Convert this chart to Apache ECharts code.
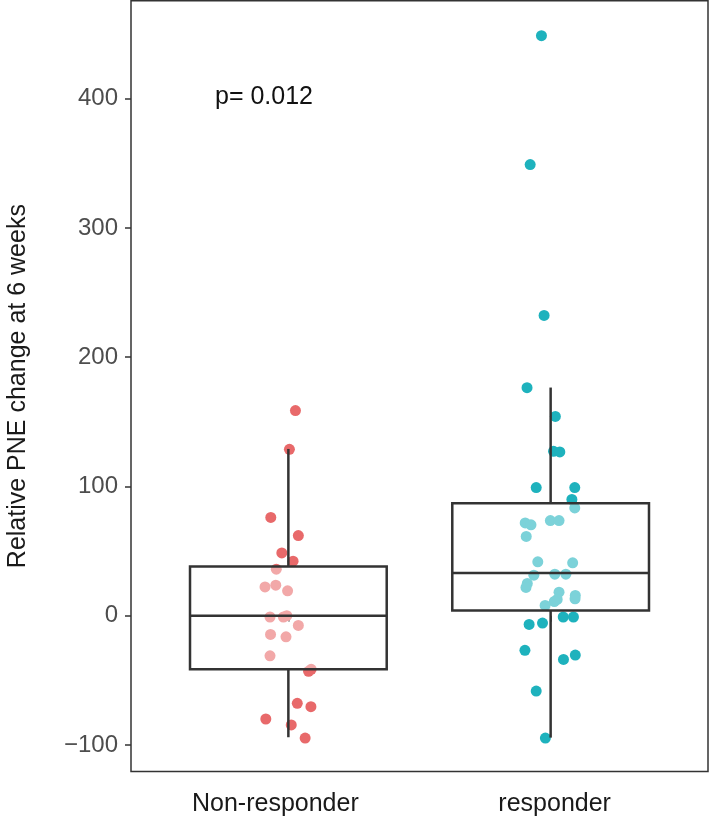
<!DOCTYPE html>
<html>
<head>
<meta charset="utf-8">
<script src="https://cdn.jsdelivr.net/npm/echarts@6/dist/echarts.min.js"></script>
<style>html,body{margin:0;padding:0;background:#fff;}#c{width:709px;height:827px;}</style>
</head>
<body>
<div id="c"></div>
<script>
// Categories and tick labels
var categories = ['Non-responder', 'responder'];
var yTicks = [-100, 0, 100, 200, 300, 400];
var yTitle = 'Relative PNE change at 6 weeks';
var pLabel = 'p= 0.012';

// Box statistics per group: [lowWhisker, q1, median, q3, highWhisker]
var boxNonResponder = [-94, -41.5, 0, 38, 129];
var boxResponder = [-94.3, 4, 33, 87, 176.5];

// Jittered points: horizontal jitter (in category units) and values
var nonRespJitter = [0.027, 0.004, -0.067, 0.038, -0.025, 0.018, -0.046, -0.089, -0.048, -0.003, -0.070, -0.019, -0.006, 0.038, -0.068, -0.009, -0.070, 0.077, 0.087, 0.034, 0.086, -0.086, 0.011, 0.064];
var nonRespValues = [158.7, 128.7, 76, 62, 48.6, 42.2, 36, 22.3, 23.6, 19.3, -1, -1, 0, -7.5, -14.5, -16.3, -31, -43, -41.5, -67.8, -70.4, -79.9, -84.5, -94.6];

var respJitter = [-0.035, -0.078, -0.025, -0.090, 0.018, 0.011, 0.035, -0.055, 0.092, 0.081, 0.092, -0.097, -0.075, -0.001, 0.032, -0.093, -0.049, 0.084, -0.064, 0.016, 0.058, -0.089, -0.094, 0.032, 0.025, 0.014, 0.094, 0.093, -0.021, 0.048, 0.087, -0.082, -0.031, -0.098, 0.049, 0.094, -0.055, -0.020];
var respValues = [448.7, 349, 232.3, 176.4, 154.2, 127.2, 126.7, 99.1, 99.1, 89.9, 83.4, 71.8, 70.3, 73.6, 73.6, 61.3, 41.7, 40.9, 31.4, 32.1, 32.1, 25, 21.9, 18.2, 12.6, 11, 15.7, 13.1, 8, -1, -1, -6.7, -5.7, -26.8, -33.8, -30.4, -58.3, -94.6];

var colors = ['#E8696A', '#1EB2BD'];

function pts(jit, vals, pos) {
  return vals.map(function (v, i) { return [pos + jit[i], v]; });
}

var chart = echarts.init(document.getElementById('c'), null, {renderer: 'canvas'});
var lineColor = '#333333';
var font = 'Liberation Sans, Arial, Helvetica, sans-serif';

var option = {
  animation: false,
  grid: {left: 131, right: 1, top: 0.75, bottom: 55.5, show: true, containLabel: false, outerBoundsMode: 'none', borderColor: lineColor, borderWidth: 1.5, backgroundColor: 'transparent'},
  xAxis: {
    type: 'value', min: 0.4, max: 2.6,
    axisLine: {show: false},
    splitLine: {show: false},
    axisTick: {show: true, customValues: [1, 2], length: 6, lineStyle: {color: lineColor, width: 1.5}},
    axisLabel: {customValues: [1, 2], margin: 20, fontSize: 25, color: '#1a1a1a', fontFamily: font,
      formatter: function (v) { var i = Math.round(v) - 1; return '{' + (i === 0 ? 'a' : 'b') + '|' + categories[i] + '}'; },
      rich: {
        a: {fontSize: 25, color: '#1a1a1a', fontFamily: font, padding: [0, 26, 0, 0]},
        b: {fontSize: 25, color: '#1a1a1a', fontFamily: font, padding: [0, 0, 0, 8]}
      }}
  },
  yAxis: {
    type: 'value', min: -120.5, max: 475.7,
    name: yTitle, nameLocation: 'middle', nameGap: 100, nameRotate: 90,
    nameTextStyle: {fontSize: 25, color: '#1a1a1a', fontFamily: font},
    axisLine: {show: false},
    splitLine: {show: false},
    axisTick: {show: true, customValues: yTicks, length: 6, lineStyle: {color: lineColor, width: 1.5}},
    axisLabel: {customValues: yTicks, margin: 13, fontSize: 24, color: '#4D4D4D', fontFamily: font,
      formatter: function (v) { return v < 0 ? '\u2212' + Math.abs(v) : String(v); }}
  },
  graphic: [{
    type: 'text', left: 215, top: 85, z: 100,
    style: {text: pLabel, fontSize: 25, fill: '#111', fontFamily: font}
  }],
  series: [
    {type: 'scatter', symbolSize: 11, z: 2, itemStyle: {color: colors[0], opacity: 1}, data: pts(nonRespJitter, nonRespValues, 1)},
    {type: 'scatter', symbolSize: 11, z: 2, itemStyle: {color: colors[1], opacity: 1}, data: pts(respJitter, respValues, 2)},
    {
      type: 'custom', z: 5,
      data: [[1].concat(boxNonResponder), [2].concat(boxResponder)],
      renderItem: function (params, api) {
        var x = api.value(0);
        var lo = api.coord([x, api.value(1)]);
        var q1 = api.coord([x, api.value(2)]);
        var med = api.coord([x, api.value(3)]);
        var q3 = api.coord([x, api.value(4)]);
        var hi = api.coord([x, api.value(5)]);
        var w = api.size([0.75, 0])[0];
        var cx = lo[0];
        var st = {stroke: lineColor, lineWidth: 2.5};
        return {type: 'group', children: [
          {type: 'line', shape: {x1: cx, y1: hi[1], x2: cx, y2: q3[1]}, style: st},
          {type: 'line', shape: {x1: cx, y1: q1[1], x2: cx, y2: lo[1]}, style: st},
          {type: 'rect', shape: {x: cx - w / 2, y: q3[1], width: w, height: q1[1] - q3[1]}, style: {fill: 'rgba(255,255,255,0.42)', stroke: lineColor, lineWidth: 2.5}},
          {type: 'line', shape: {x1: cx - w / 2, y1: med[1], x2: cx + w / 2, y2: med[1]}, style: st}
        ]};
      }
    }
  ]
};
chart.setOption(option);
</script>
</body>
</html>
